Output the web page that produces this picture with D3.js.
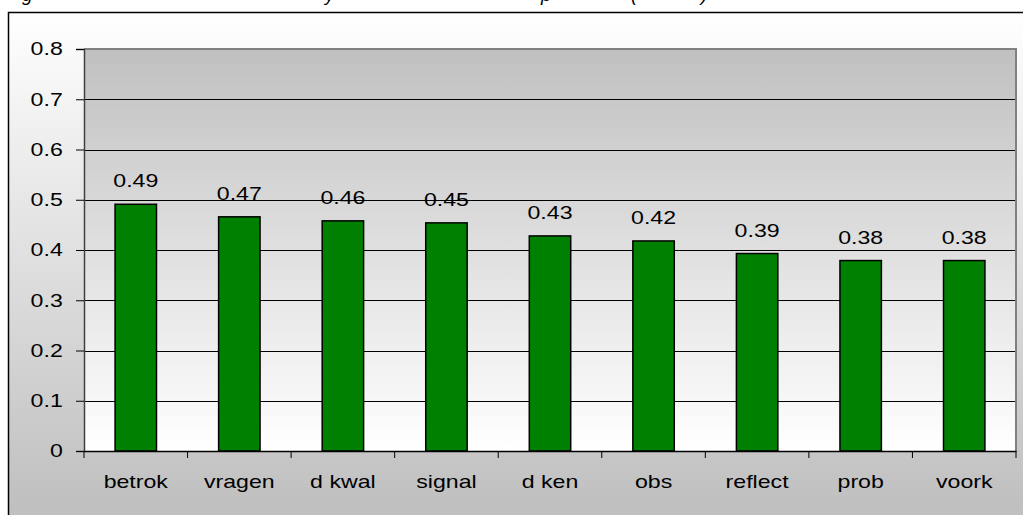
<!DOCTYPE html>
<html>
<head>
<script src="https://d3js.org/d3.v7.min.js"></script>
<style>
  body { margin: 0; background: #fff; }
  text { font-family: Arial, "Liberation Sans", sans-serif; }
</style>
</head>
<body>
<svg width="1023" height="515"></svg>
<script>
// data
var categories = ["betrok", "vragen", "d kwal", "signal", "d ken", "obs", "reflect", "prob", "voork"];
var values = [0.491, 0.466, 0.458, 0.454, 0.428, 0.418, 0.393, 0.379, 0.379];
var yTicks = [0, 0.1, 0.2, 0.3, 0.4, 0.5, 0.6, 0.7, 0.8];
// only the descenders of the title peek into the picture
var titleBits = [{ t: "g", x: 22 }, { t: "y", x: 325 }, { t: "p", x: 541 }, { t: "(", x: 631 }, { t: ")", x: 701 }];

var margin = { top: 49, right: 7, bottom: 64, left: 84 };
var width = 1023, height = 515;
var fontSize = 18.5;
var stretch = 1.25; // the original chart is stretched sideways

var svg = d3.select("svg");
var defs = svg.append("defs");

var outerGrad = defs.append("linearGradient").attr("id", "outerGrad")
  .attr("gradientUnits", "userSpaceOnUse")
  .attr("x1", 0).attr("y1", 12).attr("x2", 0).attr("y2", 505);
outerGrad.append("stop").attr("offset", 0).attr("stop-color", "#ffffff");
outerGrad.append("stop").attr("offset", 1).attr("stop-color", "#c0c0c0");

var plotGrad = defs.append("linearGradient").attr("id", "plotGrad")
  .attr("gradientUnits", "userSpaceOnUse")
  .attr("x1", 0).attr("y1", margin.top).attr("x2", 0).attr("y2", height - margin.bottom);
plotGrad.append("stop").attr("offset", 0).attr("stop-color", "#c0c0c0");
plotGrad.append("stop").attr("offset", 1).attr("stop-color", "#ffffff");

// title fragments (cut off at the top, as in the original)
svg.append("text")
  .attr("y", 1)
  .attr("font-size", 19)
  .attr("font-style", "italic")
  .selectAll("tspan")
  .data(titleBits)
  .join("tspan")
  .attr("x", d => d.x)
  .text(d => d.t);

// chart area
svg.append("rect")
  .attr("x", 8.5).attr("y", 12.5)
  .attr("width", 1100).attr("height", 600)
  .attr("fill", "url(#outerGrad)")
  .attr("stroke", "#000").attr("stroke-width", 1.5);

var x = d3.scaleBand()
  .domain(categories)
  .range([margin.left, width - margin.right])
  .padding(0);

var y = d3.scaleLinear()
  .domain([0, 0.8])
  .range([height - margin.bottom, margin.top]);

// plot area
svg.append("rect")
  .attr("x", margin.left).attr("y", y(0.8))
  .attr("width", x.range()[1] - margin.left)
  .attr("height", y(0) - y(0.8))
  .attr("fill", "url(#plotGrad)");

// grid lines
svg.append("g")
  .selectAll("line")
  .data(yTicks.filter(d => d > 0 && d < 0.8))
  .join("line")
  .attr("x1", margin.left).attr("x2", x.range()[1])
  .attr("y1", d => Math.round(y(d)) + 0.5).attr("y2", d => Math.round(y(d)) + 0.5)
  .attr("stroke", "#000").attr("stroke-width", 1);

// top and right border of plot area
svg.append("path")
  .attr("d", `M${margin.left},${y(0.8)}H${x.range()[1]}V${y(0)}`)
  .attr("fill", "none")
  .attr("stroke", "#808080").attr("stroke-width", 2);

// bars
var barW = x.bandwidth() * 0.4;
svg.append("g")
  .selectAll("rect")
  .data(values)
  .join("rect")
  .attr("x", (d, i) => x(categories[i]) + (x.bandwidth() - barW) / 2)
  .attr("y", d => y(d))
  .attr("width", barW)
  .attr("height", d => y(0) - y(d))
  .attr("fill", "#008000")
  .attr("stroke", "#000").attr("stroke-width", 1.5);

// value labels
svg.append("g")
  .selectAll("text")
  .data(values)
  .join("text")
  .attr("transform", (d, i) => `translate(${x(categories[i]) + x.bandwidth() / 2},${y(d) - 17}) scale(${stretch},1)`)
  .attr("text-anchor", "middle")
  .attr("font-size", fontSize)
  .attr("fill", "#000")
  .text(d => d.toFixed(2));

// y axis
var yAxis = svg.append("g")
  .attr("transform", `translate(${margin.left},0)`)
  .call(d3.axisLeft(y).tickValues(yTicks).tickSize(8).tickPadding(9)
    .tickFormat(d => d === 0 ? "0" : d3.format(".1f")(d)));
yAxis.select(".domain").attr("stroke", "#404040").attr("stroke-width", 1.5);
yAxis.selectAll(".tick line").attr("stroke", "#000");
yAxis.selectAll("text")
  .attr("transform", `scale(${stretch},1)`)
  .attr("font-size", fontSize).attr("fill", "#000")
  .attr("font-family", "Arial, 'Liberation Sans', sans-serif");

// x axis: ticks between categories
var xAxis = svg.append("g")
  .attr("transform", `translate(0,${y(0)})`)
  .call(d3.axisBottom(x).tickSize(0).tickPadding(24));
xAxis.select(".domain").attr("stroke", "#000").attr("stroke-width", 1.5);
xAxis.selectAll("text")
  .attr("transform", `scale(${stretch},1)`)
  .attr("font-size", fontSize).attr("fill", "#000")
  .attr("font-family", "Arial, 'Liberation Sans', sans-serif");

var bounds = categories.map(c => x(c)).concat([x.range()[1]]);
xAxis.selectAll(".sep")
  .data(bounds)
  .join("line")
  .attr("class", "sep")
  .attr("x1", d => d).attr("x2", d => d)
  .attr("y1", 0).attr("y2", 7)
  .attr("stroke", "#000").attr("stroke-width", 1);
</script>
</body>
</html>
